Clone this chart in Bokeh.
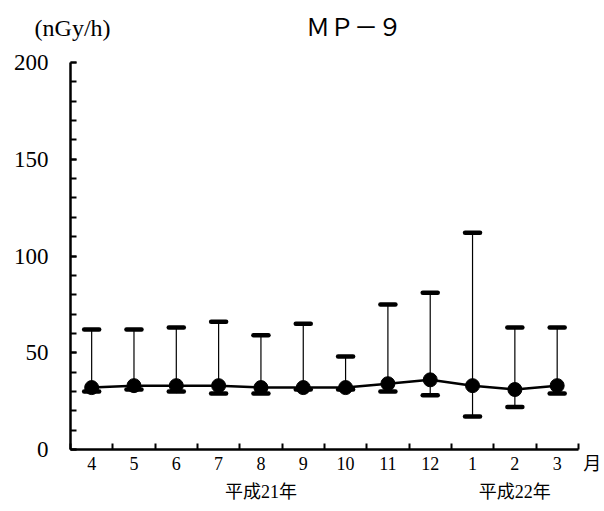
from bokeh.plotting import figure
from bokeh.models import FixedTicker, Range1d, ColumnDataSource, LinearAxis
from bokeh.embed import file_html
from bokeh.resources import INLINE

# ---- data ----
months = ["4", "5", "6", "7", "8", "9", "10", "11", "12", "1", "2", "3"]
mean_vals = [32, 33, 33, 33, 32, 32, 32, 34, 36, 33, 31, 33]
max_vals = [62, 62, 63, 66, 59, 65, 48, 75, 81, 112, 63, 63]
min_vals = [30, 31, 30, 29, 29, 31, 31, 30, 28, 17, 22, 29]
year_labels = ["平成21年", "平成22年"]
year_label_month = ["8", "2"]
y_ticks = [0, 50, 100, 150, 200]
y_minor = list(range(0, 201, 10))
title_text = "ＭＰ－９"
unit_text = "(nGy/h)"
month_unit = "月"

SERIF = "'Liberation Serif', 'Noto Sans CJK JP'"

n = len(months)
xs = list(range(n))
src = ColumnDataSource(dict(x=xs, mean=mean_vals, hi=max_vals, lo=min_vals))

p = figure(
    frame_width=529, frame_height=387,
    x_range=Range1d(-0.5, n), y_range=Range1d(0, 200),
    output_backend="svg", toolbar_location=None,
    min_border_left=70, min_border_right=3, min_border_top=62, min_border_bottom=58,
)
p.outline_line_color = None
p.xgrid.visible = False
p.ygrid.visible = False
p.background_fill_color = "white"

# error bars
p.segment(x0="x", y0="lo", x1="x", y1="hi", source=src, line_color="black", line_width=1.2)
p.scatter(x="x", y="hi", source=src, marker="dash", size=15, line_width=4.5,
          line_color="black", line_cap="round")
p.scatter(x="x", y="lo", source=src, marker="dash", size=15, line_width=4.5,
          line_color="black", line_cap="round")
# mean line and points
p.line(x="x", y="mean", source=src, line_color="black", line_width=2.5)
p.scatter(x="x", y="mean", source=src, marker="circle", size=14,
          fill_color="black", line_color="black")

# x axis line with category boundary ticks (no labels)
xa = p.xaxis[0]
xa.ticker = FixedTicker(ticks=[], minor_ticks=[i - 0.5 for i in range(n + 1)])
xa.bounds = (-0.5, n - 0.5)
xa.major_tick_in = 0
xa.major_tick_out = 0
xa.minor_tick_in = 6
xa.minor_tick_out = 0
xa.axis_line_width = 2.5
xa.minor_tick_line_width = 2
xa.major_label_standoff = 0

# month labels (+ unit 月 to the right of the axis end)
mpos = xs + [n - 0.17]
mlab = months + [month_unit]
ma = LinearAxis(ticker=FixedTicker(ticks=mpos),
                major_label_overrides={k: t for k, t in zip(mpos, mlab)})
ma.axis_line_color = None
ma.major_tick_line_color = None
ma.minor_tick_line_color = None
ma.major_tick_in = 0
ma.major_tick_out = 0
ma.major_label_text_font = SERIF
ma.major_label_text_font_size = "18px"
ma.major_label_text_color = "black"
ma.major_label_standoff = 4
p.add_layout(ma, "below")

# second row: year labels
yr_pos = [months.index(m) for m in year_label_month]
ya2 = LinearAxis(ticker=FixedTicker(ticks=yr_pos),
                 major_label_overrides={i: t for i, t in zip(yr_pos, year_labels)})
ya2.axis_line_color = None
ya2.major_tick_line_color = None
ya2.minor_tick_line_color = None
ya2.major_tick_in = 0
ya2.major_tick_out = 0
ya2.major_label_text_font = SERIF
ya2.major_label_text_font_size = "18px"
ya2.major_label_text_color = "black"
ya2.major_label_standoff = 5
p.add_layout(ya2, "below")

# y axis
ya = p.yaxis[0]
ya.ticker = FixedTicker(ticks=y_ticks, minor_ticks=y_minor)
ya.major_tick_in = 6
ya.major_tick_out = 0
ya.minor_tick_in = 6
ya.minor_tick_out = 0
ya.axis_line_width = 2.5
ya.major_tick_line_width = 2
ya.minor_tick_line_width = 2
ya.major_label_text_font = SERIF
ya.major_label_text_font_size = "23px"
ya.major_label_text_color = "black"
ya.major_label_standoff = 22

# top row: unit and title
top_pos = [-0.45, 6.2]
top_text = [unit_text, title_text]
ta = LinearAxis(ticker=FixedTicker(ticks=top_pos),
                major_label_overrides={k: t for k, t in zip(top_pos, top_text)})
ta.axis_line_color = None
ta.major_tick_line_color = None
ta.minor_tick_line_color = None
ta.major_tick_in = 0
ta.major_tick_out = 0
ta.major_label_text_font = SERIF
ta.major_label_text_font_size = "24px"
ta.major_label_text_color = "black"
ta.major_label_standoff = 22
p.add_layout(ta, "above")

open("out.html", "w").write(file_html(p, INLINE))
